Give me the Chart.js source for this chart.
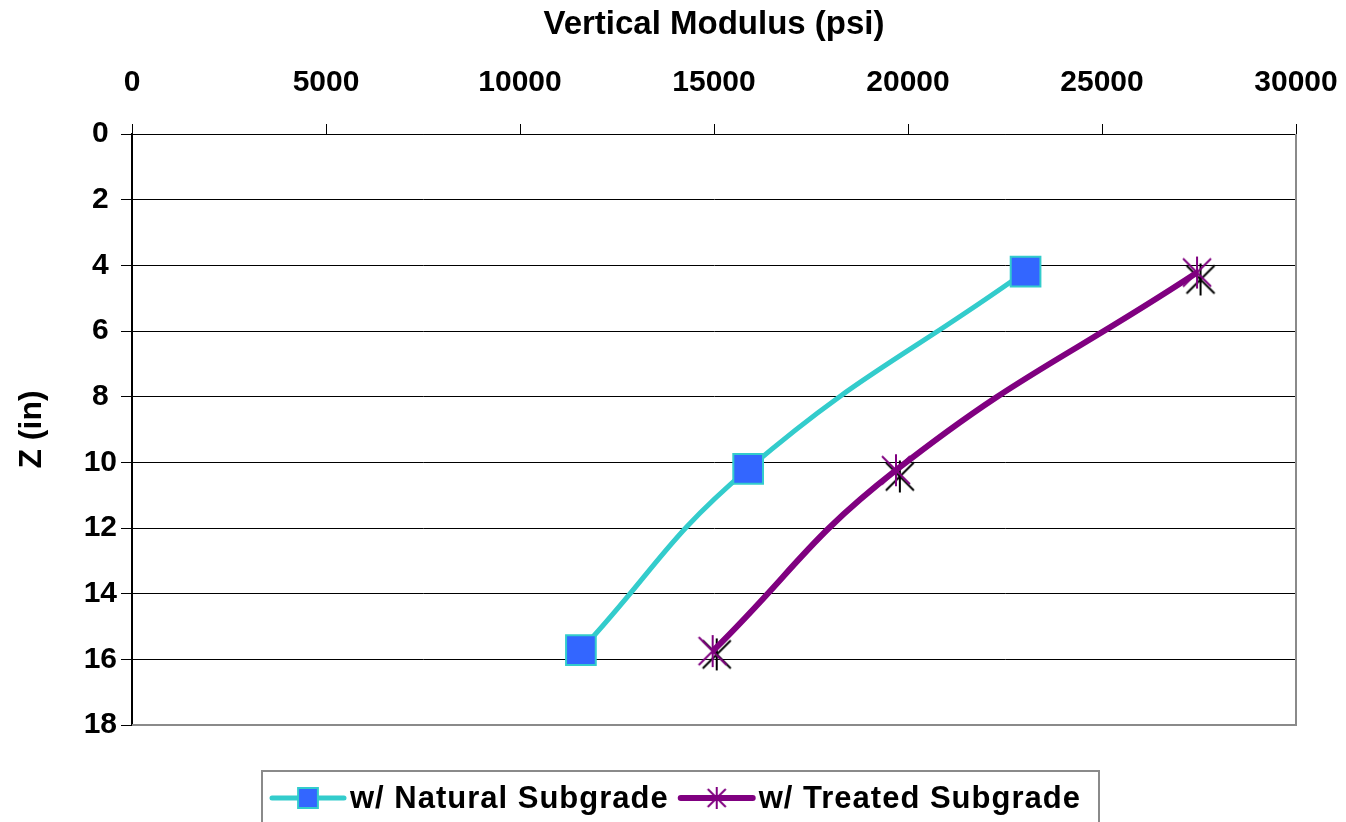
<!DOCTYPE html>
<html>
<head>
<meta charset="utf-8">
<script src="https://cdn.jsdelivr.net/npm/chart.js@4"></script>
<style>
  html, body { margin: 0; padding: 0; background: #ffffff; }
  #wrap { width: 1346px; height: 822px; position: relative; overflow: hidden; }
</style>
</head>
<body>
<div id="wrap"><canvas id="c" width="1346" height="822"></canvas></div>
<script>
// ---- data ----
const seriesLabels = ['w/ Natural Subgrade', 'w/ Treated Subgrade'];
const modulusNatural = [23030, 15880, 11570];
const depthNatural   = [4.19, 10.2, 15.72];
const modulusTreated = [27450, 19690, 14965];
const depthTreated   = [4.22, 10.24, 15.75];
// black duplicate markers visible just beside the treated points
const modulusTreatedShadow = [27540, 19790, 15070];
const depthTreatedShadow   = [4.43, 10.43, 15.85];
const xTicks = [0, 5000, 10000, 15000, 20000, 25000, 30000];
const yTicks = [0, 2, 4, 6, 8, 10, 12, 14, 16, 18];
const xTitle = 'Vertical Modulus (psi)';
const yTitle = 'Z (in)';

const FONT = "'Liberation Sans', Arial, sans-serif";
const TEAL = '#33CCCC';
const BLUE = '#3366FF';
const PURPLE = '#800080';

function pts(xs, ys) { return xs.map((x, i) => ({ x: x, y: ys[i] })); }

// Excel-style asterisk marker: X plus a vertical bar
function makeAsterisk(color, size, lw) {
  const c = document.createElement('canvas');
  c.width = size; c.height = size;
  const g = c.getContext('2d');
  g.strokeStyle = color;
  g.lineWidth = lw;
  const m = size / 2, d = size / 2 - 3;
  g.beginPath();
  g.moveTo(m - d, m - d); g.lineTo(m + d, m + d);
  g.moveTo(m + d, m - d); g.lineTo(m - d, m + d);
  g.moveTo(m, 1); g.lineTo(m, size - 1);
  g.stroke();
  return c;
}
const purpleStar = makeAsterisk(PURPLE, 34, 2);
const blackStar = makeAsterisk('#000', 34, 2);
const legendStar = makeAsterisk(PURPLE, 24, 2);

const plotBorder = {
  id: 'plotBorder',
  beforeDatasetsDraw(chart) {
    const a = chart.chartArea, ctx = chart.ctx;
    ctx.save();
    ctx.strokeStyle = '#8a8a8a';
    ctx.lineWidth = 2;
    ctx.beginPath();
    ctx.moveTo(a.right, a.top);
    ctx.lineTo(a.right, a.bottom);
    ctx.lineTo(a.left, a.bottom);
    ctx.stroke();
    ctx.restore();
  }
};

const customLegend = {
  id: 'customLegend',
  afterDraw(chart) {
    const ctx = chart.ctx;
    const boxL = 262, boxT = 771, boxW = 837, boxH = 70;
    const cy = 798;
    ctx.save();
    ctx.strokeStyle = '#8a8a8a';
    ctx.lineWidth = 2;
    ctx.strokeRect(boxL, boxT, boxW, boxH);
    ctx.font = 'bold 31px ' + FONT;
    ctx.letterSpacing = '1px';
    ctx.textBaseline = 'middle';
    ctx.textAlign = 'left';
    let x = boxL + 10;
    const ds = chart.data.datasets;
    [0, 1].forEach(i => {
      const d = ds[i];
      ctx.strokeStyle = d.borderColor;
      ctx.lineWidth = d.borderWidth;
      ctx.lineCap = 'round';
      ctx.beginPath();
      ctx.moveTo(x, cy);
      ctx.lineTo(x + 72, cy);
      ctx.stroke();
      ctx.lineCap = 'butt';
      ctx.fillStyle = d.pointBackgroundColor;
      ctx.strokeStyle = d.pointBorderColor;
      ctx.lineWidth = d.pointBorderWidth;
      Chart.helpers.drawPoint(ctx, {
        pointStyle: i === 0 ? d.pointStyle : legendStar,
        radius: 14,
        rotation: 0,
        borderWidth: d.pointBorderWidth
      }, x + 36, cy);
      ctx.fillStyle = '#000';
      ctx.fillText(d.label, x + 78, cy + 1);
      x = x + 78 + ctx.measureText(d.label).width + 12;
    });
    ctx.restore();
  }
};

new Chart(document.getElementById('c'), {
  type: 'scatter',
  data: {
    datasets: [
      {
        label: seriesLabels[0],
        data: pts(modulusNatural, depthNatural),
        showLine: true,
        tension: 0.45,
        borderColor: TEAL,
        borderWidth: 5,
        pointStyle: 'rect',
        pointRadius: 21,
        pointBackgroundColor: BLUE,
        pointBorderColor: TEAL,
        pointBorderWidth: 2,
        order: 1
      },
      {
        label: seriesLabels[1],
        data: pts(modulusTreated, depthTreated),
        showLine: true,
        tension: 0.45,
        borderColor: PURPLE,
        borderWidth: 6,
        pointStyle: purpleStar,
        pointRadius: 16,
        pointBackgroundColor: PURPLE,
        pointBorderColor: PURPLE,
        pointBorderWidth: 2,
        order: 2
      },
      {
        label: 'shadow',
        data: pts(modulusTreatedShadow, depthTreatedShadow),
        showLine: false,
        pointStyle: blackStar,
        pointRadius: 16,
        pointBackgroundColor: '#000',
        pointBorderColor: '#000',
        pointBorderWidth: 2,
        order: 3
      }
    ]
  },
  options: {
    responsive: false,
    animation: false,
    layout: { padding: { left: 0, top: 0, right: 50, bottom: 97 } },
    plugins: {
      legend: { display: false },
      tooltip: { enabled: false }
    },
    scales: {
      x: {
        type: 'linear',
        position: 'top',
        min: 0, max: 30000,
        afterBuildTicks(s) { s.ticks = xTicks.map(v => ({ value: v })); },
        afterFit(s) { s.height = 134; s.paddingLeft = 0; s.paddingRight = 0; },
        ticks: {
          color: '#000',
          padding: 23,
          maxRotation: 0,
          autoSkip: false,
          font: { family: FONT, size: 30, weight: 'bold' },
          callback: v => String(v)
        },
        grid: { drawOnChartArea: false, drawTicks: true, tickLength: 10, tickColor: '#000', tickWidth: 1 },
        border: { display: true, color: '#000', width: 1 },
        title: {
          display: true, text: xTitle, color: '#000',
          padding: { top: 5, bottom: 0 },
          font: { family: FONT, size: 33, weight: 'bold' }
        }
      },
      y: {
        type: 'linear',
        reverse: true,
        min: 0, max: 18,
        afterBuildTicks(s) { s.ticks = yTicks.map(v => ({ value: v })); },
        afterFit(s) { s.width = 132; s.paddingTop = 0; s.paddingBottom = 0; },
        ticks: {
          color: '#000',
          padding: 4,
          crossAlign: 'center',
          autoSkip: false,
          font: { family: FONT, size: 30, weight: 'bold' },
          callback: v => String(v)
        },
        grid: { color: '#000', lineWidth: 1, drawTicks: true, tickLength: 11, tickColor: '#000' },
        border: { display: true, color: '#000', width: 2 },
        title: {
          display: true, text: yTitle, color: '#000',
          padding: { top: 13, bottom: 0 },
          font: { family: FONT, size: 32, weight: 'bold' }
        }
      }
    }
  },
  plugins: [plotBorder, customLegend]
});
</script>
</body>
</html>
